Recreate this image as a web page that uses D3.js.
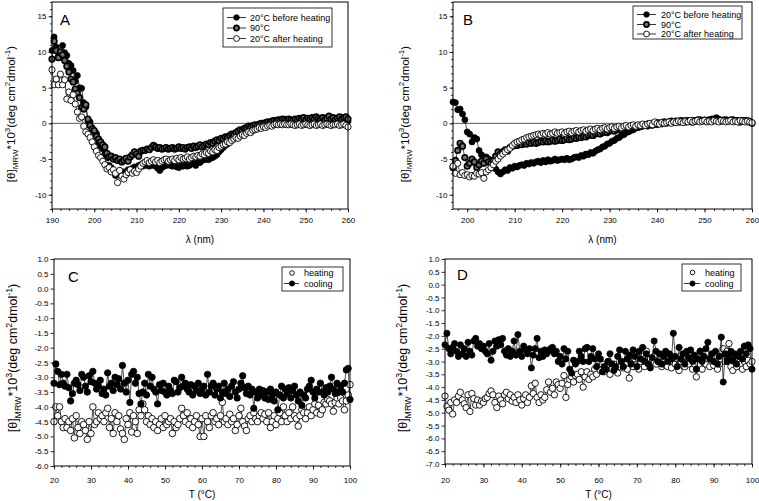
<!DOCTYPE html>
<html><head><meta charset="utf-8">
<script src="https://cdn.jsdelivr.net/npm/d3@7"></script>
<style>body{margin:0;background:#fff} svg{display:block} text{font-family:"Liberation Sans",Arial,sans-serif;fill:#000}</style>
</head><body><svg id="c" width="759" height="501"></svg>
<script>
// ---------- Panel A (wavelength 190..260 nm, step 0.5) ----------
const aWavelength = d3.range(190, 260.01, 0.5);
const aBefore = [10.2,12.1,10.7,9.4,9.3,10.9,9.9,9.5,8.4,8.1,7.4,5.9,6.7,5.0,4.9,2.9,2.3,0.3,0.2,-0.6,
-1.2,-1.4,-2.7,-3.2,-3.6,-4.3,-4.8,-5.9,-6.2,-6.8,-7.3,-7.1,-6.6,-7.1,-6.8,-6.9,-6.5,-6.7,-6.3,-6.1,
-6.2,-5.9,-5.8,-6.0,-5.7,-5.9,-6.0,-5.8,-5.9,-6.0,-6.3,-6.6,-6.2,-6.0,-5.9,-5.8,-5.9,-6.0,-5.8,-6.1,
-6.2,-5.9,-6.0,-5.8,-6.0,-5.9,-5.7,-5.6,-5.9,-5.4,-5.5,-5.2,-5.1,-5.0,-5.1,-4.9,-4.8,-4.6,-4.4,-4.0,
-3.7,-3.4,-3.1,-2.9,-2.6,-2.4,-2.1,-1.9,-1.6,-1.4,-1.2,-1.0,-0.8,-0.7,-0.5,-0.6,-0.4,-0.3,-0.4,-0.2,
-0.1,0.0,0.1,0.1,0.3,0.2,0.4,0.3,0.5,0.4,0.6,0.4,0.5,0.3,0.4,0.5,0.6,0.4,0.7,0.5,
0.6,0.4,0.7,0.5,0.8,0.6,0.5,0.7,0.4,0.6,0.8,0.5,0.6,0.4,0.7,0.5,0.6,0.8,0.5,0.7,0.3];
const a90C = [9.0,11.5,10.2,9.2,10.0,9.6,8.8,8.0,7.2,6.2,5.8,4.8,4.2,3.6,2.2,2.0,2.6,0.6,-0.3,-0.8,
-1.0,-1.8,-2.2,-2.6,-3.0,-3.3,-4.2,-4.7,-4.6,-5.0,-4.8,-5.2,-5.0,-5.4,-5.2,-4.9,-5.3,-4.7,-4.4,-4.0,
-4.3,-4.6,-3.9,-3.8,-3.8,-3.6,-3.7,-3.4,-3.1,-3.3,-3.5,-3.4,-3.6,-3.5,-3.4,-3.6,-3.5,-3.4,-3.6,-3.5,
-3.3,-3.5,-3.4,-3.6,-3.4,-3.3,-3.5,-3.2,-3.4,-3.2,-3.0,-3.3,-3.1,-2.9,-3.0,-2.7,-2.8,-2.5,-2.3,-2.4,
-2.1,-2.2,-1.9,-2.0,-1.7,-1.5,-1.6,-1.3,-1.1,-0.9,-1.0,-0.7,-0.6,-0.4,-0.5,-0.3,-0.2,-0.3,-0.1,0.0,
-0.1,0.1,0.2,0.1,0.3,0.4,0.3,0.5,0.4,0.6,0.5,0.4,0.6,0.5,0.4,0.6,0.5,0.7,0.6,0.8,
0.5,0.7,0.6,0.8,0.6,0.9,0.7,0.6,0.8,0.5,0.7,1.0,0.6,0.8,0.5,0.7,0.9,0.6,0.8,0.9,0.6];
const aAfter = [7.5,5.4,6.2,5.4,6.9,5.4,6.1,3.4,4.4,3.2,4.0,2.7,1.6,0.7,0.9,-0.4,-1.2,-1.5,-2.0,-2.6,
-3.3,-3.9,-4.5,-4.8,-5.3,-5.8,-6.4,-6.2,-6.8,-6.5,-7.0,-8.3,-6.6,-7.4,-7.8,-7.2,-6.9,-6.5,-7.0,-6.7,
-6.9,-6.4,-6.0,-5.6,-5.4,-5.2,-5.5,-5.3,-5.1,-5.4,-5.2,-5.5,-5.3,-5.1,-5.0,-5.3,-5.1,-5.0,-5.2,-4.9,
-5.1,-4.8,-5.0,-4.9,-4.7,-5.0,-4.8,-4.6,-4.7,-4.5,-4.6,-4.3,-4.4,-4.1,-4.2,-3.9,-4.0,-3.7,-3.8,-3.4,
-3.2,-3.0,-2.9,-2.6,-2.7,-2.4,-2.2,-2.0,-2.1,-1.8,-1.6,-1.7,-1.4,-1.2,-1.3,-1.0,-0.9,-0.8,-0.6,-0.7,
-0.5,-0.6,-0.4,-0.3,-0.4,-0.2,-0.1,-0.2,-0.1,-0.2,-0.1,-0.2,-0.2,-0.1,-0.2,-0.3,-0.2,-0.1,-0.3,-0.2,
-0.1,-0.2,-0.3,-0.2,-0.1,-0.3,-0.2,-0.1,-0.3,-0.2,-0.1,-0.2,-0.3,-0.2,-0.2,-0.1,-0.3,-0.2,-0.1,-0.3,-0.5];

// ---------- Panel B (wavelength 197..260 nm, step 0.5) ----------
const bWavelength = d3.range(197, 260.01, 0.5);
const bBefore = [3.0,2.9,1.9,2.0,1.3,0.5,-1.2,-1.5,-2.6,-2.0,-2.2,-3.8,-4.4,-4.9,-4.7,-5.0,-5.4,-6.0,-6.4,-6.8,-7.1,
-6.8,-6.5,-6.6,-6.2,-6.3,-6.0,-6.1,-5.9,-5.8,-5.9,-5.6,-5.7,-5.5,-5.6,-5.4,-5.3,-5.5,-5.2,-5.4,-5.1,
-5.3,-5.2,-5.0,-5.2,-5.1,-5.0,-5.1,-4.9,-5.1,-5.0,-4.8,-4.7,-4.8,-4.5,-4.6,-4.3,-4.4,-4.1,-4.2,-3.9,
-3.7,-3.6,-3.3,-3.2,-2.9,-2.8,-2.5,-2.4,-2.1,-2.0,-1.7,-1.6,-1.3,-1.2,-1.0,-0.9,-0.7,-0.6,-0.5,-0.4,
-0.3,-0.4,-0.2,-0.3,-0.1,-0.2,0.0,-0.1,0.1,0.0,0.2,0.1,0.2,0.3,0.2,0.3,0.2,0.4,0.3,0.2,
0.4,0.3,0.5,0.3,0.4,0.5,0.3,0.4,0.6,0.5,0.8,0.6,0.4,0.5,0.3,0.4,0.5,0.3,0.4,0.2,
0.4,0.3,0.4,0.2,0.3,0.1];
const b90C = [-6.2,-5.2,-3.8,-2.8,-3.2,-4.8,-6.0,-5.6,-5.0,-5.4,-6.2,-5.8,-5.3,-5.6,-5.0,-5.4,-5.6,-5.2,-4.6,-4.0,-4.3,
-4.0,-3.7,-3.9,-3.4,-3.2,-3.0,-3.1,-2.9,-3.0,-2.8,-2.9,-2.7,-2.8,-2.6,-2.8,-2.7,-2.5,-2.6,-2.4,-2.6,
-2.5,-2.3,-2.5,-2.4,-2.2,-2.4,-2.3,-2.1,-2.3,-2.2,-2.0,-2.1,-1.9,-2.0,-1.8,-1.9,-1.7,-1.6,-1.7,-1.5,
-1.4,-1.5,-1.3,-1.2,-1.3,-1.1,-1.0,-1.1,-0.9,-0.8,-0.9,-0.7,-0.6,-0.7,-0.5,-0.4,-0.5,-0.3,-0.4,-0.2,
-0.3,-0.1,-0.2,0.0,-0.1,0.1,0.0,0.1,0.2,0.1,0.2,0.3,0.2,0.3,0.2,0.4,0.3,0.2,0.4,0.3,
0.2,0.4,0.3,0.5,0.3,0.4,0.3,0.5,0.4,0.6,0.4,0.5,0.3,0.4,0.5,0.3,0.4,0.5,0.3,0.4,
0.2,0.4,0.3,0.4,0.2,0.0];
const bAfter = [-6.0,-7.0,-5.6,-7.2,-6.9,-7.3,-7.2,-7.5,-7.3,-7.4,-7.0,-7.1,-6.9,-7.7,-6.8,-6.5,-6.2,-5.8,-5.3,-5.0,-4.6,
-4.3,-4.0,-3.7,-3.5,-3.1,-2.8,-2.6,-2.5,-2.3,-2.2,-2.0,-1.9,-1.8,-1.7,-1.6,-1.5,-1.6,-1.4,-1.5,-1.3,
-1.5,-1.4,-1.2,-1.4,-1.3,-1.2,-1.4,-1.2,-1.1,-1.3,-1.1,-1.0,-1.2,-1.0,-0.9,-1.1,-0.9,-0.8,-1.0,-0.8,
-0.7,-0.9,-0.7,-0.6,-0.8,-0.6,-0.5,-0.7,-0.5,-0.4,-0.6,-0.4,-0.3,-0.5,-0.3,-0.2,-0.4,-0.2,-0.3,-0.1,
-0.3,-0.1,0.0,-0.2,0.2,0.0,-0.1,0.1,0.0,0.1,0.2,0.0,0.2,0.1,0.3,0.2,0.1,0.3,0.2,0.4,
0.2,0.3,0.4,0.2,0.3,0.4,0.2,0.3,0.2,0.4,0.3,0.2,0.4,0.3,0.2,0.3,0.4,0.2,0.3,0.2,
0.4,0.3,0.2,0.3,0.2,0.1];

// ---------- Panel C (temperature 20..100 °C, step 0.5) ----------
const cTemperature = d3.range(20, 100.01, 0.5);
const cHeating = [-4.5,-4.0,-4.3,-4.0,-4.5,-4.7,-4.4,-4.7,-4.5,-4.8,-4.4,-5.05,-4.3,-4.7,-4.9,-4.5,-4.6,-4.8,-5.1,-4.5,
-4.9,-4.0,-4.6,-4.5,-4.2,-4.4,-4.3,-4.5,-4.2,-4.05,-4.7,-4.4,-4.9,-4.2,-4.5,-4.3,-4.75,-4.9,-5.1,-4.4,
-4.6,-4.2,-4.85,-4.3,-4.5,-4.9,-4.1,-4.3,-3.9,-4.1,-4.5,-4.3,-4.6,-4.4,-4.7,-4.5,-4.8,-4.6,-4.4,-4.7,
-4.3,-4.6,-4.5,-4.4,-4.9,-4.5,-4.7,-4.6,-4.4,-4.05,-4.3,-4.5,-4.2,-4.6,-4.4,-4.7,-4.5,-4.3,-4.6,-5.0,
-4.4,-5.0,-4.3,-4.5,-4.7,-4.3,-4.2,-4.5,-4.4,-4.6,-4.3,-3.85,-4.5,-4.4,-4.6,-4.25,-4.5,-4.4,-4.8,-4.6,
-4.3,-4.05,-4.5,-4.65,-4.8,-4.4,-4.3,-4.5,-4.2,-4.4,-4.5,-4.3,-4.2,-4.4,-4.25,-4.5,-4.2,-4.7,-4.5,-4.3,
-4.6,-4.4,-4.2,-4.5,-4.0,-4.3,-4.5,-4.2,-4.4,-4.0,-4.3,-4.4,-4.65,-4.3,-4.1,-4.2,-4.4,-4.2,-4.0,-4.3,
-4.1,-3.9,-4.2,-3.95,-4.25,-4.1,-3.85,-3.9,-3.75,-3.8,-3.9,-4.15,-3.85,-3.7,-3.9,-3.7,-3.8,-4.1,-3.8,-3.6,-3.25];
const cCooling = [-3.2,-2.55,-2.8,-3.25,-2.9,-3.2,-3.3,-2.9,-3.35,-3.8,-3.55,-3.2,-3.1,-3.25,-3.45,-2.9,-3.0,-3.3,-3.5,-2.95,
-3.15,-2.8,-3.2,-3.4,-3.3,-3.1,-3.55,-3.4,-3.6,-2.85,-3.3,-3.2,-3.45,-3.0,-3.25,-3.05,-3.4,-2.6,-3.2,-3.5,
-3.1,-3.85,-2.9,-2.8,-3.2,-3.0,-3.55,-3.9,-3.5,-3.2,-3.6,-2.9,-3.3,-3.0,-3.4,-3.5,-3.9,-3.25,-3.45,-3.2,
-3.5,-3.6,-3.3,-3.45,-3.55,-3.1,-3.15,-3.5,-3.35,-3.0,-3.3,-3.2,-3.4,-3.5,-3.25,-3.6,-3.3,-3.45,-3.2,-3.55,
-3.4,-3.3,-3.6,-2.9,-3.5,-3.3,-3.2,-3.6,-3.4,-3.3,-3.7,-3.5,-3.2,-3.55,-3.4,-3.65,-3.3,-3.15,-3.5,-3.7,
-3.4,-3.2,-2.95,-3.35,-3.55,-3.3,-3.6,-3.4,-4.05,-3.5,-3.7,-3.4,-3.6,-3.45,-3.7,-3.5,-3.75,-3.4,-3.6,-3.8,
-3.5,-4.1,-3.6,-3.3,-3.7,-3.4,-3.55,-3.35,-3.7,-3.45,-3.3,-3.6,-3.8,-3.5,-3.95,-3.6,-3.7,-3.4,-3.3,-3.1,
-3.5,-3.7,-3.4,-3.5,-3.2,-3.5,-3.6,-3.35,-3.5,-3.3,-3.0,-3.4,-3.55,-3.2,-3.5,-3.3,-3.5,-3.2,-2.75,-2.7,-3.75];

// ---------- Panel D (temperature 20..100 °C, step 0.5) ----------
const dTemperature = d3.range(20, 100.01, 0.5);
const dHeating = [-4.35,-4.75,-4.9,-4.6,-5.05,-4.5,-4.6,-4.35,-4.2,-4.5,-4.65,-4.8,-4.3,-4.95,-4.25,-4.45,-4.7,-4.5,-4.7,-4.55,
-4.6,-4.45,-4.4,-4.25,-4.15,-4.3,-4.6,-4.8,-4.35,-4.5,-4.65,-4.3,-4.2,-4.45,-4.3,-4.55,-4.4,-4.6,-4.3,-4.5,
-4.7,-4.45,-4.3,-4.6,-4.4,-3.95,-4.25,-3.85,-4.4,-4.6,-4.3,-4.5,-4.4,-4.1,-3.8,-4.2,-4.05,-4.3,-3.8,-3.9,
-4.05,-3.85,-3.55,-4.4,-3.9,-3.7,-3.6,-3.8,-3.55,-3.5,-3.7,-3.4,-4.0,-3.6,-3.4,-3.7,-3.5,-3.6,-3.3,-3.5,
-3.2,-3.35,-3.1,-3.4,-3.2,-3.0,-3.5,-3.3,-3.1,-3.35,-3.45,-3.2,-3.0,-3.25,-3.1,-3.3,-3.65,-3.0,-3.2,-2.9,
-3.1,-3.3,-3.0,-2.8,-3.2,-2.6,-3.1,-2.9,-3.0,-2.8,-3.1,-3.0,-2.9,-3.2,-3.0,-3.15,-3.2,-2.9,-3.25,-3.0,
-3.1,-2.9,-3.35,-3.0,-2.95,-3.2,-2.85,-3.1,-2.9,-3.3,-3.1,-3.6,-2.8,-2.6,-3.3,-2.95,-3.1,-2.9,-3.2,-3.0,
-3.15,-3.0,-3.3,-3.1,-2.9,-2.5,-3.0,-2.6,-2.3,-3.2,-3.35,-3.0,-3.2,-2.9,-3.1,-3.3,-3.0,-3.2,-2.95,-3.1,-3.0];
const dCooling = [-2.35,-1.9,-2.5,-2.7,-2.45,-2.3,-2.6,-2.8,-2.35,-2.7,-2.5,-2.8,-2.25,-2.6,-2.75,-2.2,-2.1,-2.4,-2.3,-2.5,
-2.4,-2.6,-2.7,-2.3,-2.95,-2.6,-2.2,-2.4,-2.15,-2.35,-2.1,-2.6,-2.75,-2.5,-2.8,-2.6,-2.2,-2.75,-1.95,-2.6,
-2.8,-2.4,-2.55,-2.7,-2.5,-3.25,-2.75,-2.5,-2.1,-2.85,-2.6,-2.8,-2.55,-2.7,-2.6,-2.5,-2.45,-2.7,-2.6,-3.0,
-2.8,-3.1,-2.5,-2.9,-2.6,-3.3,-3.45,-2.95,-3.1,-3.0,-2.6,-2.8,-3.0,-2.5,-2.45,-3.0,-2.8,-2.5,-2.9,-3.2,
-2.7,-2.9,-3.4,-3.2,-3.3,-3.0,-2.7,-3.1,-3.35,-3.2,-2.8,-2.55,-3.0,-3.2,-2.6,-2.9,-2.75,-3.1,-2.55,-2.8,
-3.2,-2.6,-2.9,-2.45,-3.0,-2.7,-3.1,-3.25,-2.85,-2.2,-2.6,-3.0,-2.7,-3.1,-2.8,-2.6,-3.0,-2.7,-2.9,-1.9,
-2.8,-3.2,-2.45,-2.9,-2.7,-3.1,-2.6,-2.85,-2.55,-3.0,-2.75,-3.3,-2.9,-2.6,-3.0,-2.8,-2.5,-2.25,-2.9,-2.7,
-3.0,-2.6,-3.1,-2.8,-2.05,-3.8,-2.7,-3.0,-2.8,-2.6,-2.95,-2.7,-3.1,-2.8,-2.6,-2.9,-2.4,-2.7,-2.35,-2.5,-3.3];

// ---------- tick values / labels ----------
const spectraYTicks = [-10, -5, 0, 5, 10, 15];
const spectraXTicks = [190, 200, 210, 220, 230, 240, 250, 260];
const spectraLegend = ["20°C before heating", "90°C", "20°C after heating"];
const meltXTicks = [20, 30, 40, 50, 60, 70, 80, 90, 100];
const meltCYTicks = d3.range(-6, 1.001, 0.5);
const meltDYTicks = d3.range(-7, 1.001, 0.5);
const meltLegend = ["heating", "cooling"];

const svg = d3.select("#c");

const STY = {
  filled: {fill: "#000", stroke: "#000", sw: 0.8},
  gray: {fill: "#6e6e6e", stroke: "#000", sw: 1.6},
  open: {fill: "#fff", stroke: "#000", sw: 0.9}
};

function yTitle(g, cx, cy, fs) {
  const t = g.append("text")
    .attr("transform", `translate(${cx},${cy}) rotate(-90)`)
    .attr("text-anchor", "middle").attr("dy", "0.35em")
    .style("font-size", fs + "px");
  const small = (fs * 0.7).toFixed(1) + "px";
  t.append("tspan").text("[θ]");
  t.append("tspan").attr("dy", fs * 0.3).style("font-size", small).text("MRW");
  t.append("tspan").attr("dy", -fs * 0.3).text("*10");
  t.append("tspan").attr("dy", -fs * 0.4).style("font-size", small).text("3");
  t.append("tspan").attr("dy", fs * 0.4).text("(deg cm");
  t.append("tspan").attr("dy", -fs * 0.4).style("font-size", small).text("2");
  t.append("tspan").attr("dy", fs * 0.4).text("dmol");
  t.append("tspan").attr("dy", -fs * 0.4).style("font-size", small).text("-1");
  t.append("tspan").attr("dy", fs * 0.4).text(")");
}

function panel(cfg) {
  const g = svg.append("g");
  const x = d3.scaleLinear().domain(cfg.xDomain).range([cfg.x0, cfg.x1]);
  const y = d3.scaleLinear().domain(cfg.yDomain).range([cfg.y1, cfg.y0]);

  // minor ticks
  g.append("g").attr("transform", `translate(0,${cfg.y1})`)
    .call(d3.axisBottom(x).tickValues(cfg.xMinor).tickSize(2).tickFormat(""));
  if (cfg.yMinor) g.append("g").attr("transform", `translate(${cfg.x0},0)`)
    .call(d3.axisLeft(y).tickValues(cfg.yMinor).tickSize(2).tickFormat(""));
  // major ticks
  g.append("g").attr("class", "xa").attr("transform", `translate(0,${cfg.y1})`)
    .call(d3.axisBottom(x).tickValues(cfg.xTicks).tickSize(3.5).tickPadding(cfg.xPad).tickFormat(d => String(d)));
  g.append("g").attr("class", "ya").attr("transform", `translate(${cfg.x0},0)`)
    .call(d3.axisLeft(y).tickValues(cfg.yTicks).tickSize(3.5).tickPadding(2).tickFormat(cfg.yFmt));
  g.selectAll(".domain").remove();
  g.selectAll(".tick line").attr("stroke", "#000").attr("stroke-width", 0.8);
  g.selectAll(".tick text").style("font-size", cfg.tickFs + "px").style("font-family", '"Liberation Sans",Arial,sans-serif');

  // zero line
  if (cfg.zeroLine) g.append("line")
    .attr("x1", cfg.x0).attr("x2", cfg.x1).attr("y1", y(0)).attr("y2", y(0))
    .attr("stroke", "#555").attr("stroke-width", 1);

  // series
  cfg.series.forEach(s => {
    const pts = s.values.map((v, i) => [cfg.xs[i], v]);
    const line = d3.line().x(d => x(d[0])).y(d => y(d[1]));
    g.append("path").attr("d", line(pts)).attr("fill", "none").attr("stroke", "#000").attr("stroke-width", 0.7);
    const st = STY[s.style];
    g.append("g").selectAll("circle").data(pts).join("circle")
      .attr("cx", d => x(d[0])).attr("cy", d => y(d[1])).attr("r", s.r)
      .attr("fill", st.fill).attr("stroke", st.stroke).attr("stroke-width", st.sw);
  });

  // frame
  g.append("rect").attr("x", cfg.x0).attr("y", cfg.y0)
    .attr("width", cfg.x1 - cfg.x0).attr("height", cfg.y1 - cfg.y0)
    .attr("fill", "none").attr("stroke", "#000").attr("stroke-width", 1);

  // panel letter
  g.append("text").attr("x", cfg.letter[1]).attr("y", cfg.letter[2])
    .style("font-size", "15px").text(cfg.letter[0]);

  // axis titles
  g.append("text").attr("x", (cfg.x0 + cfg.x1) / 2).attr("y", cfg.xTitleY)
    .attr("text-anchor", "middle").style("font-size", "10px").text(cfg.xTitle);
  yTitle(g, cfg.yTitleX, cfg.yTitleY, cfg.yTitleFs);

  // legend
  const L = cfg.legend;
  g.append("rect").attr("x", L.x0).attr("y", L.y0).attr("width", L.x1 - L.x0).attr("height", L.y1 - L.y0)
    .attr("fill", "#fff").attr("stroke", "#000").attr("stroke-width", 0.8);
  L.items.forEach((it, i) => {
    const yy = L.rows[i];
    if (it.line) g.append("line").attr("x1", L.lx0).attr("x2", L.lx1).attr("y1", yy).attr("y2", yy)
      .attr("stroke", "#000").attr("stroke-width", 0.8);
    const st = STY[it.style];
    g.append("circle").attr("cx", L.mx).attr("cy", yy).attr("r", it.r)
      .attr("fill", st.fill).attr("stroke", st.stroke).attr("stroke-width", st.sw);
    g.append("text").attr("x", L.tx).attr("y", yy).attr("dy", "0.35em")
      .style("font-size", L.fs + "px").text(it.label);
  });
}

const intFmt = d => String(d);
const decFmt = d => (Math.abs(d) < 1e-9 ? 0 : d).toFixed(1);

panel({
  x0: 52, x1: 348, y0: 2, y1: 209, xDomain: [190, 260], yDomain: [-12, 17],
  xs: aWavelength, xTicks: spectraXTicks, xMinor: d3.range(190, 260.01, 2),
  yTicks: spectraYTicks, yMinor: d3.range(-12, 17.01, 1), yFmt: intFmt, xPad: 5, tickFs: 8,
  zeroLine: true,
  series: [
    {values: aBefore, style: "filled", r: 3},
    {values: a90C, style: "gray", r: 2.8},
    {values: aAfter, style: "open", r: 3.1}
  ],
  letter: ["A", 60, 25], xTitle: "λ (nm)", xTitleY: 243, yTitleX: 11, yTitleY: 114, yTitleFs: 11.5,
  legend: {x0: 223, x1: 332, y0: 8, y1: 47, rows: [17.5, 28, 38.5], lx0: 227, lx1: 246, mx: 236.5, tx: 250, fs: 9,
    items: [
      {label: spectraLegend[0], style: "filled", r: 2.8, line: true},
      {label: spectraLegend[1], style: "gray", r: 2.6, line: true},
      {label: spectraLegend[2], style: "open", r: 2.9, line: true}
    ]}
});

panel({
  x0: 453, x1: 752, y0: 2, y1: 209, xDomain: [197, 260], yDomain: [-12, 17],
  xs: bWavelength, xTicks: spectraXTicks.filter(v => v >= 200), xMinor: d3.range(198, 260.01, 2),
  yTicks: spectraYTicks, yMinor: d3.range(-12, 17.01, 1), yFmt: intFmt, xPad: 5, tickFs: 8,
  zeroLine: true,
  series: [
    {values: bBefore, style: "filled", r: 3},
    {values: b90C, style: "gray", r: 2.8},
    {values: bAfter, style: "open", r: 3.1}
  ],
  letter: ["B", 463, 25], xTitle: "λ (nm)", xTitleY: 243, yTitleX: 405, yTitleY: 114, yTitleFs: 11.5,
  legend: {x0: 633, x1: 742, y0: 6, y1: 39, rows: [14.5, 24.5, 34], lx0: 637, lx1: 656, mx: 646.5, tx: 661, fs: 9,
    items: [
      {label: spectraLegend[0], style: "filled", r: 2.8, line: true},
      {label: spectraLegend[1], style: "gray", r: 2.6, line: true},
      {label: spectraLegend[2], style: "open", r: 2.9, line: true}
    ]}
});

panel({
  x0: 54, x1: 350, y0: 259, y1: 466, xDomain: [20, 100], yDomain: [-6, 1],
  xs: cTemperature, xTicks: meltXTicks, xMinor: d3.range(20, 100.01, 2),
  yTicks: meltCYTicks, yMinor: null, yFmt: decFmt, xPad: 8, tickFs: 8,
  zeroLine: false,
  series: [
    {values: cHeating, style: "open", r: 3.3},
    {values: cCooling, style: "filled", r: 3.2}
  ],
  letter: ["C", 68, 282], xTitle: "T (°C)", xTitleY: 498, yTitleX: 13, yTitleY: 358, yTitleFs: 12.5,
  legend: {x0: 282, x1: 343, y0: 267, y1: 291, rows: [273, 283.5], lx0: 284, lx1: 299, mx: 292, tx: 304, fs: 9,
    items: [
      {label: meltLegend[0], style: "open", r: 2.3, line: false},
      {label: meltLegend[1], style: "filled", r: 2.6, line: true}
    ]}
});

panel({
  x0: 445, x1: 752, y0: 259, y1: 464, xDomain: [20, 100], yDomain: [-7, 1],
  xs: dTemperature, xTicks: meltXTicks, xMinor: d3.range(20, 100.01, 2),
  yTicks: meltDYTicks, yMinor: null, yFmt: decFmt, xPad: 10, tickFs: 8,
  zeroLine: false,
  series: [
    {values: dHeating, style: "open", r: 3.2},
    {values: dCooling, style: "filled", r: 3.1}
  ],
  letter: ["D", 457, 280], xTitle: "T (°C)", xTitleY: 498, yTitleX: 403, yTitleY: 358, yTitleFs: 12.5,
  legend: {x0: 682, x1: 741, y0: 264, y1: 291, rows: [272.5, 283.5], lx0: 684, lx1: 700, mx: 692.5, tx: 705, fs: 9,
    items: [
      {label: meltLegend[0], style: "open", r: 2.3, line: false},
      {label: meltLegend[1], style: "filled", r: 2.6, line: true}
    ]}
});
</script>
</body></html>
